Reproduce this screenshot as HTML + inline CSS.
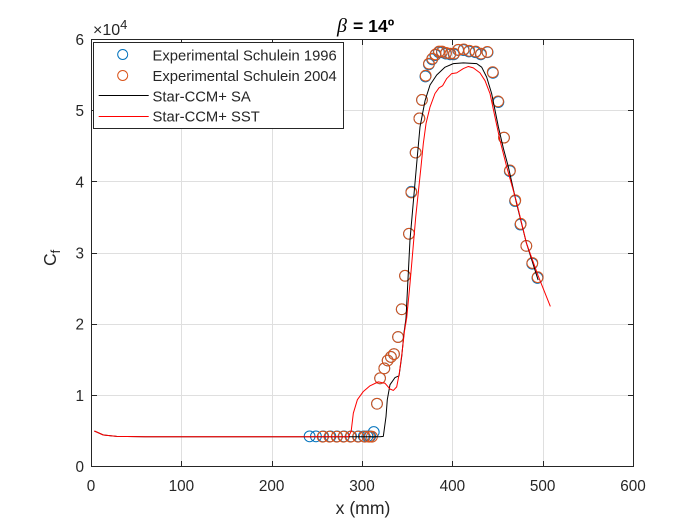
<!DOCTYPE html>
<html lang="en">
<head>
<meta charset="utf-8">
<title>Cf chart</title>
<style>
html,body{margin:0;padding:0;background:#fff;width:700px;height:525px;overflow:hidden}
svg{display:block;font-family:"Liberation Sans",Arial,sans-serif}
</style>
</head>
<body>
<svg id="chart" width="700" height="525" viewBox="0 0 700 525" xmlns="http://www.w3.org/2000/svg">
  <rect x="0" y="0" width="700" height="525" fill="#fff"/>
  <g id="grid"></g>
  <g id="series"></g>
  <g id="axes"></g>
  <text y="32" font-size="17.6" font-weight="bold" fill="#000"><tspan x="337" font-family="'Liberation Serif',serif" font-style="italic" font-weight="normal" font-size="20">β</tspan><tspan x="353">= 14º</tspan></text>
  <text x="363" y="514" text-anchor="middle" font-size="17.6" fill="#262626">x (mm)</text>
  <text transform="translate(56,266) rotate(-90)" font-size="17.5" fill="#262626">C<tspan font-size="13" dy="4">f</tspan></text>
  <text x="93" y="35" font-size="16" fill="#262626">×10<tspan font-size="13" dy="-6">4</tspan></text>
  <g>
    <rect x="93.5" y="42.5" width="250" height="86" fill="#fff" stroke="#262626" stroke-width="1"/>
    <g>
      <circle cx="122.7" cy="54.5" r="5" fill="none" stroke="#0072BD" stroke-width="1"/>
      <text x="152.5" y="60.5" font-size="14.8" fill="#262626">Experimental Schulein 1996</text>
    </g>
    <g>
      <circle cx="122.7" cy="75.5" r="5" fill="none" stroke="#D95319" stroke-width="1"/>
      <text x="152.5" y="81" font-size="14.8" fill="#262626">Experimental Schulein 2004</text>
    </g>
    <g>
      <line x1="98.7" x2="148.7" y1="95.5" y2="95.5" stroke="#000" stroke-width="1"/>
      <text x="152.5" y="101.7" font-size="14.8" fill="#262626">Star-CCM+ SA</text>
    </g>
    <g>
      <line x1="98.7" x2="148.7" y1="116.5" y2="116.5" stroke="#f00" stroke-width="1"/>
      <text x="152.5" y="121.7" font-size="14.8" fill="#262626">Star-CCM+ SST</text>
    </g>
  </g>
</svg>
<script>
var xTicks = [0, 100, 200, 300, 400, 500, 600];
var yTicks = [0, 1, 2, 3, 4, 5, 6];

var exp1996X = [242, 249, 257, 265, 272.4, 280, 288, 296, 302, 306, 309, 313, 316.6, 320, 324.7, 328.4, 332, 335.4, 339.9, 344, 347.6, 352, 354.6, 359.4, 363.5, 366.4, 370.2, 374, 377.6, 381.2, 385, 388.4, 392.8, 397.6, 401.6, 406.4, 412.4, 418.4, 425.5, 431.5, 439, 445, 451, 457.2, 463.6, 469.4, 475.4, 481.9, 488.4, 494.2];
var exp1996Y = [0.425, 0.425, 0.425, 0.425, 0.425, 0.425, 0.425, 0.425, 0.425, 0.425, 0.425, 0.485, 0.883, 1.24, 1.38, 1.49, 1.54, 1.58, 1.82, 2.21, 2.68, 3.27, 3.86, 4.41, 4.89, 5.15, 5.48, 5.65, 5.72, 5.78, 5.82, 5.82, 5.80, 5.79, 5.79, 5.85, 5.85, 5.83, 5.82, 5.79, 5.82, 5.53, 5.12, 4.62, 4.15, 3.73, 3.40, 3.10, 2.85, 2.65];

var exp2004X = [256.5, 264, 272, 279.5, 287.3, 295.6, 303, 307.8, 311, 316.6, 320, 324.7, 328.4, 332, 335.4, 339.9, 344, 347.6, 352, 354.6, 359.4, 363.5, 366.4, 370.5, 374.2, 377.9, 381.5, 385.3, 388.6, 393, 397.8, 401.9, 406.6, 412.6, 418.8, 425.9, 431.8, 438.7, 444.7, 450.6, 457.2, 463.8, 469.7, 475.7, 481.9, 488.6, 494.5];
var exp2004Y = [0.42, 0.42, 0.42, 0.42, 0.42, 0.42, 0.42, 0.42, 0.42, 0.883, 1.24, 1.38, 1.49, 1.54, 1.58, 1.82, 2.21, 2.68, 3.27, 3.85, 4.41, 4.89, 5.15, 5.49, 5.66, 5.73, 5.79, 5.83, 5.83, 5.81, 5.80, 5.80, 5.855, 5.86, 5.84, 5.83, 5.80, 5.825, 5.54, 5.13, 4.62, 4.16, 3.74, 3.41, 3.10, 2.86, 2.66];

var saX = [3.7, 13.7, 28.4, 60, 150, 250, 320, 323.6, 326.6, 328, 331, 336.5, 341, 344, 346.5, 348.7, 353.1, 361.2, 364.2, 369.8, 375.3, 382.7, 391.9, 401.1, 412.2, 427, 432.5, 438, 443.5, 451, 456.5, 462, 471, 482, 495];
var saY = [0.5, 0.444, 0.425, 0.42, 0.42, 0.42, 0.42, 0.425, 0.705, 0.94, 1.15, 1.25, 1.275, 1.55, 1.88, 2.08, 3.18, 4.35, 4.77, 5.14, 5.36, 5.50, 5.61, 5.66, 5.67, 5.66, 5.61, 5.47, 5.24, 4.77, 4.47, 4.21, 3.70, 3.14, 2.62];

var sstX = [3.7, 13.7, 28.4, 60, 150, 250, 285, 288, 290.4, 294.9, 301.5, 308.9, 318, 325.5, 331, 334.7, 338.4, 341.3, 344.3, 347, 349.5, 353.2, 359.5, 365.3, 367.9, 370.9, 375.3, 380.8, 385.3, 389.3, 393.8, 399.3, 404.8, 412.2, 417.8, 423.2, 430.6, 436.2, 441.7, 447.2, 452.8, 460.2, 471, 482, 495, 508.5];
var sstY = [0.5, 0.444, 0.425, 0.42, 0.42, 0.42, 0.42, 0.495, 0.75, 0.94, 1.055, 1.135, 1.19, 1.17, 1.09, 1.07, 1.12, 1.31, 1.6, 1.9, 2.09, 2.58, 3.51, 4.21, 4.54, 4.82, 5.05, 5.24, 5.32, 5.35, 5.45, 5.52, 5.53, 5.59, 5.62, 5.60, 5.53, 5.42, 5.24, 4.91, 4.58, 4.21, 3.72, 3.14, 2.68, 2.25];

var NS = 'http://www.w3.org/2000/svg';
var plotLeft = 91, plotRight = 633, plotTop = 39.4, plotBottom = 466.6;
var xMax = 600, yMax = 6;

function xScale(v) { return plotLeft + (v / xMax) * (plotRight - plotLeft); }
function yScale(v) { return plotBottom - (v / yMax) * (plotBottom - plotTop); }

function make(tag, attrs) {
  var el = document.createElementNS(NS, tag);
  for (var k in attrs) { el.setAttribute(k, attrs[k]); }
  return el;
}

var gridLayer = document.getElementById('grid');
var seriesLayer = document.getElementById('series');
var axesLayer = document.getElementById('axes');

xTicks.forEach(function (t) {
  var px = Math.round(xScale(t)) + 0.5;
  if (t !== 0 && t !== xMax) {
    var g = make('line', { x1: px, x2: px, y1: 39.5, y2: 466.5, stroke: '#dfdfdf', 'stroke-width': 1 });
    
    
    gridLayer.appendChild(g);
  }
  var m1 = make('line', { x1: px, x2: px, y1: 466.5, y2: 461, stroke: '#262626', 'stroke-width': 1 });
  
  
  axesLayer.appendChild(m1);
  var m2 = make('line', { x1: px, x2: px, y1: 39.5, y2: 45, stroke: '#262626', 'stroke-width': 1 });
  
  
  axesLayer.appendChild(m2);
  var lab = make('text', { x: xScale(t), y: 491, 'text-anchor': 'middle', 'font-size': 15.3, fill: '#262626' });
  
  
  lab.textContent = String(t);
  axesLayer.appendChild(lab);
});

yTicks.forEach(function (t) {
  var py = Math.round(yScale(t) - 0.5) + 0.5;
  if (t !== 0 && t !== yMax) {
    var g = make('line', { x1: 91.5, x2: 633.5, y1: py, y2: py, stroke: '#dfdfdf', 'stroke-width': 1 });
    
    
    gridLayer.appendChild(g);
  }
  var m1 = make('line', { x1: 91.5, x2: 97, y1: py, y2: py, stroke: '#262626', 'stroke-width': 1 });
  
  
  axesLayer.appendChild(m1);
  var m2 = make('line', { x1: 633.5, x2: 628, y1: py, y2: py, stroke: '#262626', 'stroke-width': 1 });
  
  
  axesLayer.appendChild(m2);
  var lab = make('text', { x: 84, y: yScale(t) + 5.5, 'text-anchor': 'end', 'font-size': 15.3, fill: '#262626' });
  
  
  lab.textContent = String(t);
  axesLayer.appendChild(lab);
});

var frame = make('rect', { x: 91.5, y: 39.5, width: 542, height: 427, fill: 'none', stroke: '#262626', 'stroke-width': 1 });


axesLayer.appendChild(frame);

exp1996X.forEach(function (v, i) {
  var c = make('circle', { cx: xScale(v), cy: yScale(exp1996Y[i]), r: 5.4, fill: 'none', stroke: '#0072BD', 'stroke-width': 1 });
  
  
  seriesLayer.appendChild(c);
});

exp2004X.forEach(function (v, i) {
  var c = make('circle', { cx: xScale(v), cy: yScale(exp2004Y[i]), r: 5.4, fill: 'none', stroke: '#D95319', 'stroke-width': 1 });
  
  
  seriesLayer.appendChild(c);
});

function linePoints(xs, ys) {
  return xs.map(function (v, i) { return xScale(v).toFixed(2) + ',' + yScale(ys[i]).toFixed(2); }).join(' ');
}

var saLine = make('polyline', { points: linePoints(saX, saY), fill: 'none', stroke: '#000', 'stroke-width': 1, 'stroke-linejoin': 'round' });


seriesLayer.appendChild(saLine);

var sstLine = make('polyline', { points: linePoints(sstX, sstY), fill: 'none', stroke: '#f00', 'stroke-width': 1, 'stroke-linejoin': 'round' });


seriesLayer.appendChild(sstLine);
</script>
</body>
</html>
